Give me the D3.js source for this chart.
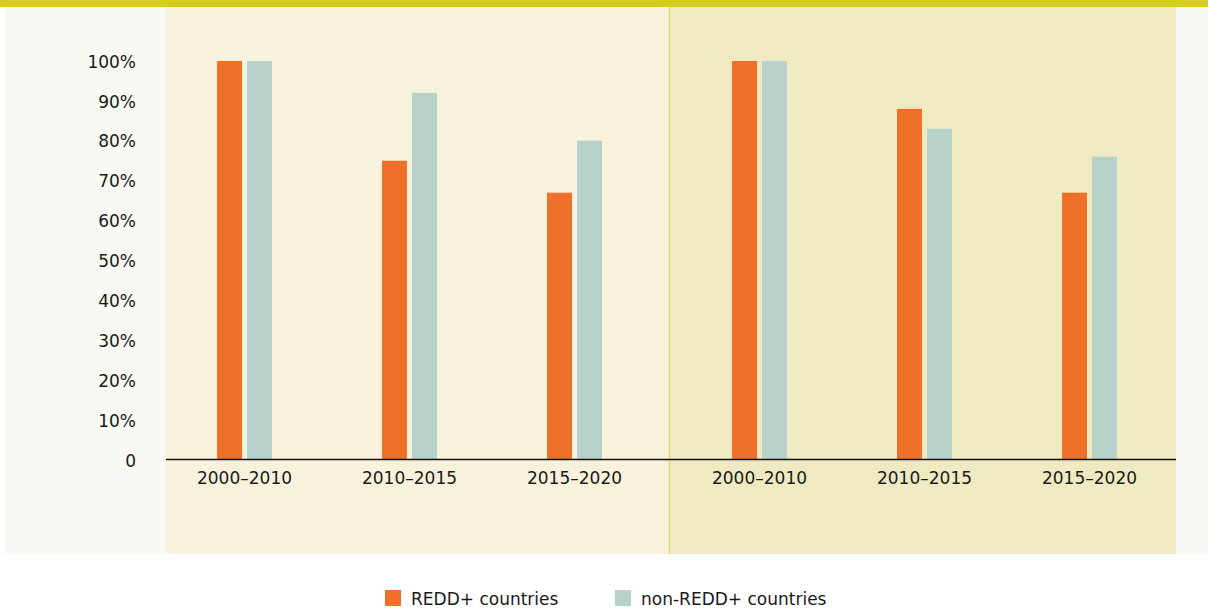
<!DOCTYPE html>
<html>
<head>
<meta charset="utf-8">
<script src="https://cdn.jsdelivr.net/npm/d3@7"></script>
<style>
  body { margin: 0; background: #fff; }
  svg { display: block; }
  svg text { font-family: "DejaVu Sans", sans-serif; }
</style>
</head>
<body>
<div id="chart"></div>
<script>
const periods = ["2000–2010", "2010–2015", "2015–2020"];
const panels = ["left", "right"];
const series = ["REDD+ countries", "non-REDD+ countries"];
const reddValues = [[100, 75, 67], [100, 88, 67]];
const nonReddValues = [[100, 92, 80], [100, 83, 76]];
const yTicks = [0, 10, 20, 30, 40, 50, 60, 70, 80, 90, 100];

const COLORS = ["#ef7029", "#b7d1cb"];
const PANEL_BG = ["#f8f2dc", "#f0eac2"];
const TEXT = "#1a1a1a";

const W = 1208, H = 608;
const svg = d3.select("#chart").append("svg").attr("width", W).attr("height", H);

// outer background + top band
svg.append("rect").attr("x", 5).attr("y", 0).attr("width", W - 5).attr("height", 554).attr("fill", "#f9f9f4");
svg.append("rect").attr("x", 0).attr("y", 0).attr("width", W).attr("height", 7).attr("fill", "#d6cb1f");

const panelX = d3.scaleOrdinal().domain(panels).range([[166, 670], [670, 1176]]);
const bandRange = { left: [162, 657], right: [677, 1172] };

const y = d3.scaleLinear().domain([0, 100]).range([460, 61]);

panels.forEach((p, i) => {
  const [x0, x1] = panelX(p);
  svg.append("rect").attr("x", x0).attr("y", 7).attr("width", x1 - x0).attr("height", 547).attr("fill", PANEL_BG[i]);
});
svg.append("line").attr("x1", 669.5).attr("x2", 669.5).attr("y1", 7).attr("y2", 554)
  .attr("stroke", "#e2d86a").attr("stroke-width", 1.5);

// y axis
const yAxis = svg.append("g").attr("transform", "translate(136,0)")
  .call(d3.axisLeft(y).tickValues(yTicks).tickSize(0).tickPadding(0)
    .tickFormat(d => d === 0 ? "0" : d + "%"));
yAxis.attr("font-family", null).attr("font-size", 17);
yAxis.select(".domain").remove();
yAxis.selectAll("text").attr("dy", "0.36em").attr("fill", TEXT);

panels.forEach((p, i) => {
  const x = d3.scaleBand().domain(periods).range(bandRange[p]);
  const inner = d3.scaleBand().domain(series).range([-27.5, 27.5]).paddingInner(1 / 6);
  const g = svg.append("g");
  const rows = periods.map((per, j) => ({ per, vals: [reddValues[i][j], nonReddValues[i][j]] }));
  g.selectAll("g.grp").data(rows).join("g")
    .attr("transform", d => `translate(${x(d.per) + x.bandwidth() / 2},0)`)
    .selectAll("rect").data(d => d.vals.map((v, k) => ({ s: series[k], v, k }))).join("rect")
    .attr("x", d => inner(d.s))
    .attr("width", inner.bandwidth())
    .attr("y", d => y(d.v))
    .attr("height", d => y(0) - y(d.v))
    .attr("fill", d => COLORS[d.k]);

  const xAxis = svg.append("g").attr("transform", "translate(0,460)")
    .call(d3.axisBottom(x).tickSize(0).tickPadding(24));
  xAxis.attr("font-family", null).attr("font-size", 17);
  xAxis.select(".domain").remove();
  xAxis.selectAll("text").attr("dy", 0).attr("fill", TEXT);
});

svg.append("line").attr("x1", 166).attr("x2", 1176).attr("y1", 459.5).attr("y2", 459.5)
  .attr("stroke", "#111").attr("stroke-width", 1.5);

// legend
const legendX = d3.scaleOrdinal().domain(series).range([385, 615]);
const lg = svg.append("g").selectAll("g").data(series).join("g")
  .attr("transform", d => `translate(${legendX(d)},590)`);
lg.append("rect").attr("width", 16).attr("height", 16).attr("fill", (d, i) => COLORS[i]);
lg.append("text").attr("x", 26).attr("y", 15).attr("font-size", 17).attr("fill", TEXT).text(d => d);
</script>
</body>
</html>
